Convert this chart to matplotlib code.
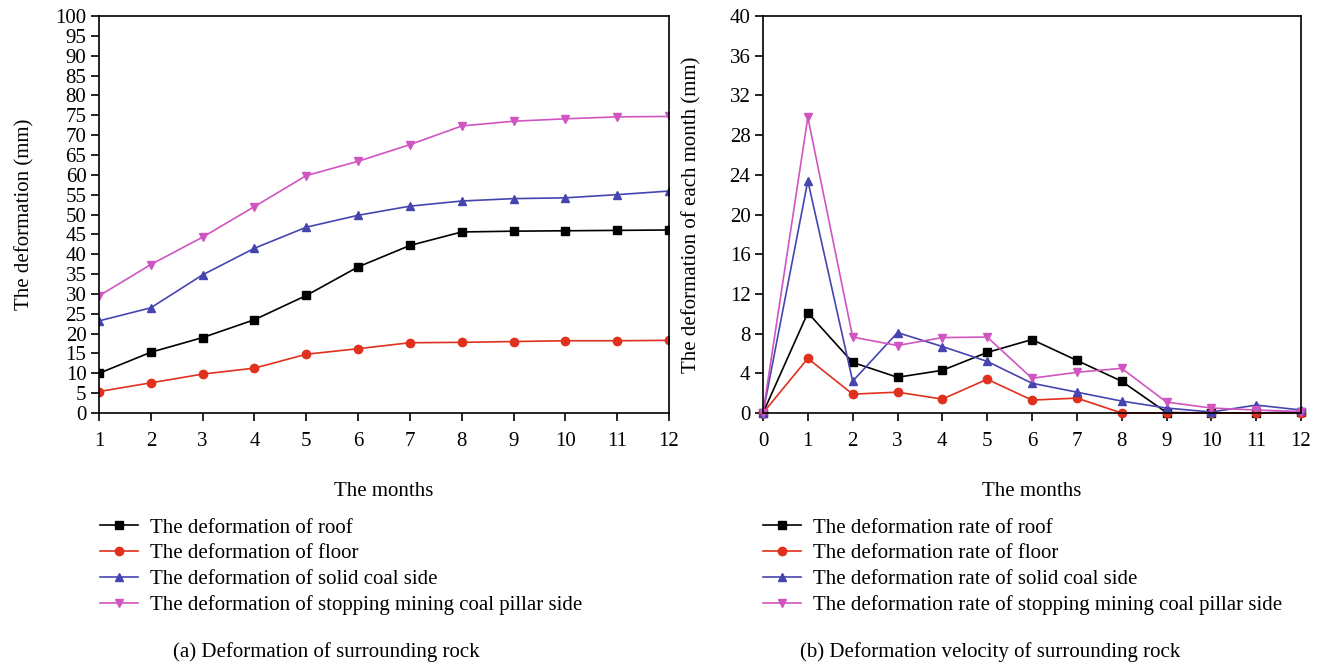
import numpy as np
import matplotlib.pyplot as plt

plt.rcParams['font.family'] = ['Liberation Serif', 'DejaVu Serif']

months_a = [1, 2, 3, 4, 5, 6, 7, 8, 9, 10, 11, 12]
roof_a = [10.0, 15.3, 19.0, 23.5, 29.6, 36.8, 42.2, 45.6, 45.8, 45.9, 46.0, 46.1]
floor_a = [5.4, 7.6, 9.8, 11.3, 14.8, 16.2, 17.7, 17.8, 18.0, 18.2, 18.2, 18.3]
solid_a = [23.2, 26.5, 34.8, 41.5, 46.8, 49.8, 52.1, 53.4, 54.0, 54.2, 55.0, 55.9]
pillar_a = [29.5, 37.4, 44.3, 52.0, 59.8, 63.4, 67.6, 72.3, 73.5, 74.1, 74.6, 74.7]

months_b = [0, 1, 2, 3, 4, 5, 6, 7, 8, 9, 10, 11, 12]
roof_b = [0, 10.1, 5.1, 3.6, 4.3, 6.1, 7.4, 5.3, 3.2, 0.05, 0, 0, 0.1]
floor_b = [0, 5.5, 1.9, 2.1, 1.4, 3.4, 1.3, 1.5, 0, 0, 0, 0, 0]
solid_b = [0, 23.4, 3.2, 8.1, 6.7, 5.2, 3.0, 2.1, 1.2, 0.5, 0.1, 0.8, 0.3]
pillar_b = [0, 29.8, 7.65, 6.8, 7.6, 7.65, 3.5, 4.1, 4.5, 1.1, 0.5, 0.3, 0.15]

labels_a = ['The deformation of roof', 'The deformation of floor',
            'The deformation of solid coal side',
            'The deformation of stopping mining coal pillar side']
labels_b = ['The deformation rate of roof', 'The deformation rate of floor',
            'The deformation rate of solid coal side',
            'The deformation rate of stopping mining coal pillar side']

colors = ['#000000', '#e0301e', '#4545b0', '#d055c0']
markers = ['s', 'o', '^', 'v']
msizes = [6, 6, 6, 6]

fig = plt.figure(figsize=(13.27, 6.67), dpi=100)
ax1 = fig.add_axes([99/1327, 1-413/667, 570/1327, 397/667])
ax2 = fig.add_axes([763/1327, 1-413/667, 538/1327, 397/667])

for ys, c, m, ms, lab in zip([roof_a, floor_a, solid_a, pillar_a], colors, markers, msizes, labels_a):
    ax1.plot(months_a, ys, color=c, marker=m, ms=ms, lw=1.2, label=lab)
for ys, c, m, ms, lab in zip([roof_b, floor_b, solid_b, pillar_b], colors, markers, msizes, labels_b):
    ax2.plot(months_b, ys, color=c, marker=m, ms=ms, lw=1.2, label=lab, clip_on=False)

fs = 15

ax1.set_xlim(1, 12)
ax1.set_ylim(0, 100)
ax1.set_xticks(months_a)
ax1.set_yticks(np.arange(0, 101, 5))
ax1.set_ylabel('The deformation (mm)', fontsize=fs, labelpad=15)
ax1.set_xlabel('The months', fontsize=fs, labelpad=22)

ax2.set_xlim(0, 12)
ax2.set_ylim(0, 40)
ax2.set_xticks(months_b)
ax2.set_yticks(np.arange(0, 41, 4))
ax2.set_ylabel('The deformation of each month (mm)', fontsize=fs, labelpad=20)
ax2.set_xlabel('The months', fontsize=fs, labelpad=22)

for ax in (ax1, ax2):
    ax.tick_params(direction='out', length=6, width=1.2, labelsize=fs)
    ax.tick_params(axis='x', pad=8)
    ax.tick_params(axis='y', pad=3)
    for s in ax.spines.values():
        s.set_linewidth(1.2)

leg_kw = dict(loc='upper left', frameon=False, fontsize=fs, handlelength=1.8,
              labelspacing=0.3, borderpad=0, borderaxespad=0, handletextpad=0.6)
fig.legend(*ax1.get_legend_handles_labels(), bbox_to_anchor=(100/1327, 1-518/667), **leg_kw)
fig.legend(*ax2.get_legend_handles_labels(), bbox_to_anchor=(763/1327, 1-518/667), **leg_kw)

fig.text(173/1327, 1-652/667, '(a) Deformation of surrounding rock', fontsize=fs, va='center')
fig.text(800/1327, 1-652/667, '(b) Deformation velocity of surrounding rock', fontsize=fs, va='center')

fig.savefig('out.png', dpi=100)
